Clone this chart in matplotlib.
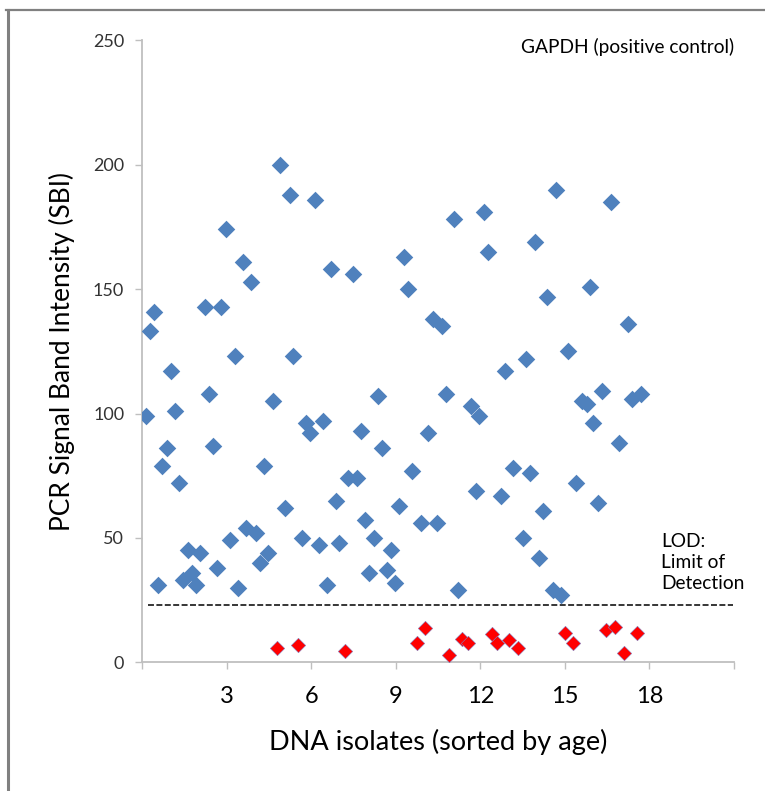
import matplotlib.pyplot as plt
from matplotlib.lines import Line2D

plt.rcParams["font.family"] = ["Lato", "DejaVu Sans"]

# isolates above the detection limit (blue)
iso_x = [0.12, 0.26, 0.40, 0.57, 0.70, 0.87, 1.02, 1.17, 1.31, 1.46,
         1.61, 1.75, 1.91, 2.06, 2.23, 2.36, 2.51, 2.66, 2.79, 2.98,
         3.11, 3.28, 3.41, 3.56, 3.69, 3.85, 4.04, 4.18, 4.32, 4.46,
         4.63, 4.90, 5.08, 5.23, 5.36, 5.67, 5.81, 5.96, 6.13, 6.26,
         6.43, 6.57, 6.70, 6.86, 6.99, 7.30, 7.48, 7.63, 7.76, 7.91,
         8.04, 8.23, 8.38, 8.52, 8.68, 8.83, 8.97, 9.10, 9.29, 9.44,
         9.56, 9.88, 10.15, 10.33, 10.47, 10.63, 10.77, 11.05, 11.22, 11.68,
         11.83, 11.94, 12.12, 12.26, 12.72, 12.89, 13.15, 13.50, 13.63, 13.77,
         13.94, 14.07, 14.21, 14.36, 14.56, 14.70, 14.85, 15.12, 15.40, 15.60,
         15.78, 15.89, 16.01, 16.18, 16.32, 16.64, 16.92, 17.23, 17.37, 17.70]
sbi = [99, 133, 141, 31, 79, 86, 117, 101, 72, 33,
       45, 36, 31, 44, 143, 108, 87, 38, 143, 174,
       49, 123, 30, 161, 54, 153, 52, 40, 79, 44,
       105, 200, 62, 188, 123, 50, 96, 92, 186, 47,
       97, 31, 158, 65, 48, 74, 156, 74, 93, 57,
       36, 50, 107, 86, 37, 45, 32, 63, 163, 150,
       77, 56, 92, 138, 56, 135, 108, 178, 29, 103,
       69, 99, 181, 165, 67, 117, 78, 50, 122, 76,
       169, 42, 61, 147, 29, 190, 27, 125, 72, 105,
       104, 151, 96, 64, 109, 185, 88, 136, 106, 108]

# isolates below the detection limit (red)
low_x = [4.79, 5.54, 7.20, 9.74, 10.04, 10.90, 11.36, 11.57, 12.42,
         12.60, 13.03, 13.35, 14.99, 15.30, 16.45, 16.79, 17.09, 17.57]
low_sbi = [5.7, 6.8, 4.7, 7.8, 13.9, 2.9, 9.4, 7.6, 11.3,
           7.6, 9.0, 5.7, 11.9, 7.8, 12.9, 14.1, 3.6, 11.8]

lod = 23
x_ticks = [0, 3, 6, 9, 12, 15, 18, 21]
x_labels = ["", "3", "6", "9", "12", "15", "18", ""]
y_ticks = [0, 50, 100, 150, 200, 250]

fig = plt.figure(figsize=(7.65, 7.91), dpi=100)
ax = fig.add_axes([0.186, 0.1627, 0.7735, 0.7863])

ax.scatter(iso_x, sbi, marker="D", s=80, color="#4F81BD", linewidths=0, zorder=3)
ax.scatter(low_x, low_sbi, marker="D", s=54, color="#FF0000",
           edgecolors="#8080C0", linewidths=0.4, zorder=3)
ax.plot([0.2, 20.95], [lod, lod], color="black", lw=1.1, dashes=(3.9, 1.6), zorder=2)

ax.set_xlim(0, 21)
ax.set_ylim(0, 250)
ax.set_xticks(x_ticks)
ax.set_xticklabels(x_labels)
ax.set_yticks(y_ticks)

for side in ("top", "right"):
    ax.spines[side].set_visible(False)
for side in ("left", "bottom"):
    ax.spines[side].set_color("#BFBFBF")
    ax.spines[side].set_linewidth(1.3)

ax.tick_params(axis="x", direction="out", length=5, width=1, color="#BFBFBF",
               labelsize=17, pad=12, labelcolor="black")
ax.tick_params(axis="y", direction="out", length=5, width=1, color="#BFBFBF",
               labelsize=13, pad=8, labelcolor="#333333")

ax.set_xlabel("DNA isolates (sorted by age)", fontsize=19.5, labelpad=16)
ax.set_ylabel("PCR Signal Band Intensity (SBI)", fontsize=19, labelpad=13)

ax.text(1.0, 0.989, "GAPDH (positive control)", transform=ax.transAxes,
        ha="right", va="center", fontsize=13.8)
ax.text(18.4, 40, "LOD:\nLimit of\nDetection", ha="left", va="center",
        fontsize=13.8, linespacing=1.3)

# chart frame (left and top edges visible)
fig.add_artist(Line2D([7.5 / 765, 7.5 / 765], [0, 1 - 10 / 791],
                      transform=fig.transFigure, color="#808080", lw=2.2))
fig.add_artist(Line2D([6.5 / 765, 1], [1 - 10 / 791, 1 - 10 / 791],
                      transform=fig.transFigure, color="#808080", lw=1.6))

fig.savefig("out.png", dpi=100)
